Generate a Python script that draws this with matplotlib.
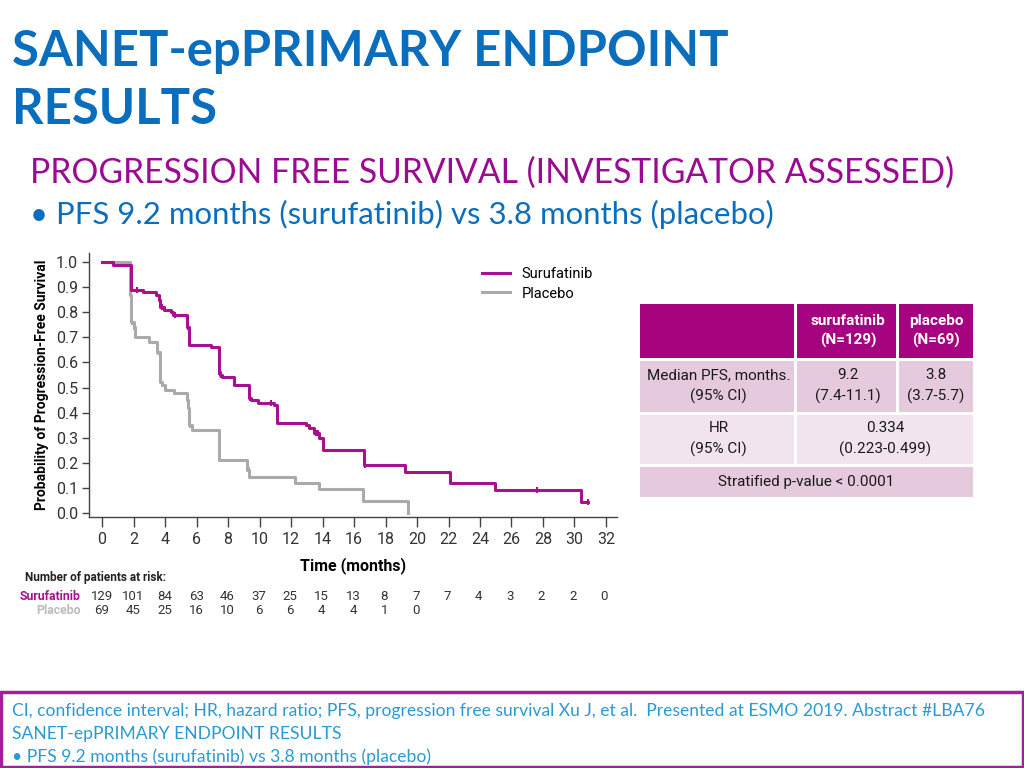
import matplotlib
matplotlib.use("Agg")
import matplotlib.pyplot as plt
from matplotlib.patches import Rectangle

# KM step data (time in months, survival after the step)
sur_t = [0, 0.7, 1.85, 2.6, 3.4, 3.6, 3.7, 3.95, 4.4, 4.5, 5.4, 5.5, 6.9, 7.4, 7.5, 7.6,
         8.37, 9.33, 9.45, 9.9, 10.9, 11.1, 12.94, 13.15, 13.47, 13.75, 14.0, 16.66,
         19.25, 22.1, 24.95, 30.4, 30.85]
sur_s = [1.0, 0.99, 0.89, 0.88, 0.87, 0.85, 0.82, 0.81, 0.80, 0.79, 0.74, 0.67, 0.66,
         0.56, 0.55, 0.54, 0.51, 0.46, 0.45, 0.44, 0.43, 0.36, 0.35, 0.34, 0.32, 0.30,
         0.25, 0.19, 0.165, 0.12, 0.09, 0.045, 0.045]
sur_cens_t = [2.2, 3.65, 3.8, 4.6, 5.45, 7.45, 7.55, 9.4, 10.7, 13.6, 13.7, 16.7, 27.6, 30.85]

pla_t = [0, 1.8, 1.85, 2.0, 2.1, 2.95, 3.5, 3.65, 3.8, 4.0, 4.55, 5.4, 5.45, 5.5, 5.55,
         5.7, 7.45, 9.2, 9.35, 12.25, 13.8, 16.6, 19.4]
pla_s = [1.0, 0.87, 0.76, 0.74, 0.70, 0.68, 0.64, 0.52, 0.51, 0.49, 0.48, 0.45, 0.42,
         0.38, 0.35, 0.33, 0.21, 0.17, 0.145, 0.12, 0.095, 0.048, 0.0]
pla_cens_t = [1.9, 2.0, 3.55, 5.5, 5.6, 9.3]

xticks = list(range(0, 33, 2))
risk_sur = [129, 101, 84, 63, 46, 37, 25, 15, 13, 8, 7, 7, 4, 3, 2, 2, 0]
risk_pla = [69, 45, 25, 16, 10, 6, 6, 4, 4, 1, 0]

tbl_head = ["surufatinib\n(N=129)", "placebo\n(N=69)"]
tbl_pfs = ["Median PFS, months.\n(95% CI)", "9.2\n(7.4-11.1)", "3.8\n(3.7-5.7)"]
tbl_hr = ["HR\n(95% CI)", "0.334\n(0.223-0.499)"]
tbl_p = "Stratified p-value < 0.0001"

MAG = "#A8108F"
GRAY = "#AAAAAA"
BLUE = "#0A6EBD"
PURPLE = "#9A0A92"
LBLUE = "#2A9AD4"
HDR = "#A5037F"
ROW = "#E5CADD"
ROW2 = "#F1E4EE"

TFONT = ["Lato", "DejaVu Sans"]
CFONT = ["Liberation Sans Narrow", "Roboto", "DejaVu Sans"]

fig = plt.figure(figsize=(10.24, 7.68), dpi=100)
W, H = 1024, 768

# full-figure overlay in pixel coords for slide text / table
bg = fig.add_axes([0, 0, 1, 1])
bg.set_xlim(0, W)
bg.set_ylim(H, 0)
bg.axis("off")

bg.text(12, 66, "SANET-epPRIMARY ENDPOINT", color=BLUE, fontsize=35.3, fontweight="bold",
        family=TFONT, va="baseline")
bg.text(12, 124, "RESULTS", color=BLUE, fontsize=35.3, fontweight="bold", family=TFONT,
        va="baseline")
bg.text(30, 183, "PROGRESSION FREE SURVIVAL (INVESTIGATOR ASSESSED)", color=PURPLE,
        fontsize=24.2, family=TFONT, va="baseline")
bg.text(30, 224, "\u2022 PFS 9.2 months (surufatinib) vs 3.8 months (placebo)", color=BLUE,
        fontsize=22.4, family=TFONT, va="baseline")

# footer box
bg.add_patch(Rectangle((1, 692), W - 2, 75, fill=False, edgecolor="#A0229A", lw=2.5))
foot = ["CI, confidence interval; HR, hazard ratio; PFS, progression free survival Xu J, et al.  "
        "Presented at ESMO 2019. Abstract #LBA76",
        "SANET-epPRIMARY ENDPOINT RESULTS",
        "\u2022 PFS 9.2 months (surufatinib) vs 3.8 months (placebo)"]
for i, line in enumerate(foot):
    bg.text(12, 711 + i * 23, line, color=LBLUE, fontsize=12.6, family=TFONT, va="center")

# results table
cols = [640, 797, 899, 973]
rows = [(304, 358), (361, 412), (415, 464), (467, 497)]
gap = 3
def cell(x0, x1, y0, y1, fc):
    bg.add_patch(Rectangle((x0, y0), x1 - x0 - gap, y1 - y0, facecolor=fc, edgecolor="none"))

cell(cols[0], cols[1], *rows[0], HDR)
cell(cols[1], cols[2], *rows[0], HDR)
cell(cols[2], cols[3] + gap, *rows[0], HDR)
cell(cols[0], cols[1], *rows[1], ROW)
cell(cols[1], cols[2], *rows[1], ROW)
cell(cols[2], cols[3] + gap, *rows[1], ROW)
cell(cols[0], cols[1], *rows[2], ROW2)
cell(cols[1], cols[3] + gap, *rows[2], ROW2)
cell(cols[0], cols[3] + gap, *rows[3], ROW)

tk = dict(ha="center", va="center", family=CFONT, fontsize=11, linespacing=1.5)
for j, txt in enumerate(tbl_head):
    bg.text((cols[j + 1] + cols[j + 2]) / 2, 331, txt, color="white", fontweight="bold", **tk)
for j, txt in enumerate(tbl_pfs):
    bg.text((cols[j] + cols[j + 1]) / 2, 386, txt, color="#1a1a1a", **tk)
bg.text((cols[0] + cols[1]) / 2, 439, tbl_hr[0], color="#1a1a1a", **tk)
bg.text((cols[1] + cols[3]) / 2, 439, tbl_hr[1], color="#1a1a1a", **tk)
bg.text((cols[0] + cols[3]) / 2, 482, tbl_p, color="#1a1a1a", **tk)

# KM plot
ax = fig.add_axes([89 / W, 1 - 517 / H, 528 / W, 264 / H])
ax.step(sur_t, sur_s, where="post", color=MAG, lw=2.2, label="Surufatinib")
ax.step(pla_t, pla_s, where="post", color=GRAY, lw=2.2, label="Placebo", zorder=1)

def at(ts, ss, x):
    v = ss[0]
    for t, s in zip(ts, ss):
        if t <= x:
            v = s
    return v

ax.plot(sur_cens_t, [at(sur_t, sur_s, c) for c in sur_cens_t], ls="none", marker="|",
        ms=5, mew=1.5, color=MAG)
ax.plot(pla_cens_t, [at(pla_t, pla_s, c) for c in pla_cens_t], ls="none", marker="|",
        ms=5, mew=1.5, color=GRAY)

ax.set_xlim(-0.83, 32.7)
ax.set_ylim(-0.016, 1.036)
ax.set_xticks(xticks)
ax.set_yticks([i / 10 for i in range(11)])
ax.set_yticklabels([f"{i / 10:.1f}" for i in range(11)])
for s in ["top", "right"]:
    ax.spines[s].set_visible(False)
for s in ["left", "bottom"]:
    ax.spines[s].set_color("#444444")
    ax.spines[s].set_linewidth(1.0)
ax.tick_params(axis="x", length=7, width=1, color="#444444", pad=4, labelsize=11.5,
               labelcolor="#333333")
ax.tick_params(axis="y", length=5, width=1, color="#444444", pad=3, labelsize=11.5,
               labelcolor="#333333")
for lab in ax.get_xticklabels() + ax.get_yticklabels():
    lab.set_family(CFONT)
ax.set_xlabel("Time (months)", fontsize=11.5, fontweight="bold", family=CFONT, labelpad=7)
ax.set_ylabel("Probability of Progression-Free Survival", fontsize=10, fontweight="bold",
              family=CFONT, labelpad=5)
ax.legend(loc="upper left", bbox_to_anchor=(0.72, 0.995), frameon=False, handlelength=1.9,
          handletextpad=0.8, prop={"family": CFONT, "size": 10.5}, labelspacing=0.35)

# number at risk
bg.text(25, 577, "Number of patients at risk:", fontsize=8.5, fontweight="bold",
        family=CFONT, va="center", color="#222222")
bg.text(81, 596, "Surufatinib", fontsize=8.8, fontweight="bold", family=CFONT, va="center",
        ha="right", color=MAG)
bg.text(81, 611, "Placebo", fontsize=8.8, fontweight="bold", family=CFONT, va="center",
        ha="right", color="#BBBBBB")
to_px = lambda m: 102 + m * 502 / 32
for m, n in zip(xticks, risk_sur):
    bg.text(to_px(m), 596, str(n), fontsize=9.5, family=CFONT, ha="center", va="center",
            color="#333333")
for m, n in zip(xticks, risk_pla):
    bg.text(to_px(m), 611, str(n), fontsize=9.5, family=CFONT, ha="center", va="center",
            color="#333333")

fig.savefig("out.png", dpi=100)
